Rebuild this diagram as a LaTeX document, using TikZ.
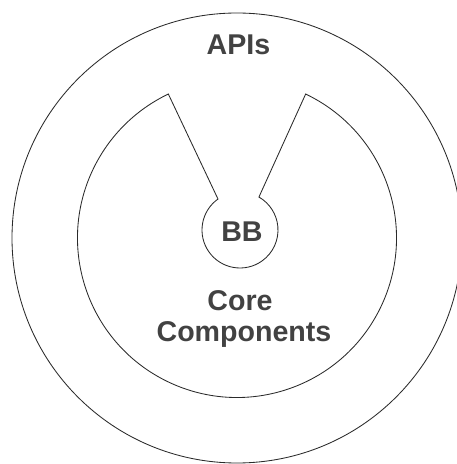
\documentclass[tikz,border=0pt]{standalone}
\usepackage{fontspec}
\setmainfont{Liberation Sans}
\usetikzlibrary{calc}
\definecolor{labelgray}{HTML}{424242}
\definecolor{ringline}{HTML}{2A2A2A}
\tikzset{
  ring/.style={draw=ringline, line width=0.85pt},
  layerlabel/.style={text=labelgray, font=\bfseries\fontsize{28.6}{32}\selectfont,
    inner sep=0pt, anchor=base, align=center},
}
\begin{document}
\begin{tikzpicture}[x=1pt, y=1pt]
  \useasboundingbox (0,0) rectangle (457,464);
  % centres of the rings and of the building-block core
  \coordinate (c) at (237,226);
  \coordinate (bb) at (240,234);

  % outer ring: APIs
  \draw[ring] (c) circle[radius=225pt];

  % middle layer with a notch opening up to the APIs ring
  \draw[ring] ($(c)+(64.5:159.5pt)$)
      arc[start angle=64.5, end angle=-244.5, radius=159.5pt]
      -- ($(bb)+(125.4:38pt)$)
      arc[start angle=125.4, end angle=420.1, radius=38pt]
      -- cycle;

  % labels
  \node[layerlabel] (apis) at (238.5,409) {APIs};
  \node[layerlabel] (bblabel) at (242,222) {BB};
  \node[layerlabel] (core) at (240,153) {Core};
  \node[layerlabel] (comp) at (244,122) {Components};
\end{tikzpicture}
\end{document}
